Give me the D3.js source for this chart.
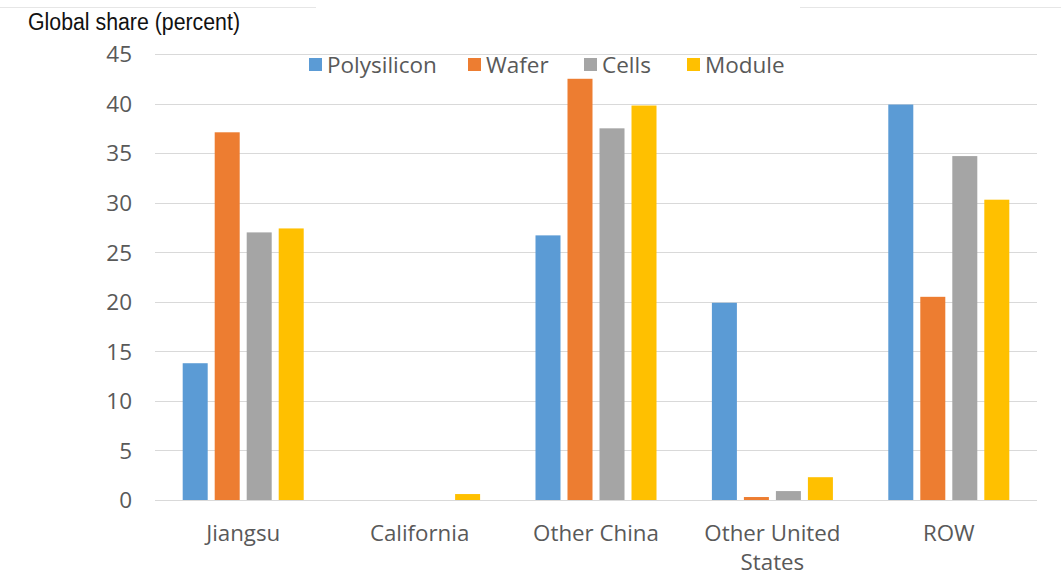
<!DOCTYPE html>
<html>
<head>
<meta charset="utf-8">
<script src="https://cdn.jsdelivr.net/npm/d3@7"></script>
<style>
  html, body { margin: 0; padding: 0; background: #fff; }
  svg { display: block; }
</style>
</head>
<body>
<svg id="chart" width="1061" height="577"></svg>
<script>
// Regions and production stages
const categories = ["Jiangsu", "California", "Other China", "Other United States", "ROW"];
const seriesNames = ["Polysilicon", "Wafer", "Cells", "Module"];
const seriesColors = ["#5b9bd5", "#ed7d31", "#a5a5a5", "#ffc000"];

// Global share (percent) per stage, one array per region order above
const polysilicon = [13.8, 0, 26.7, 19.9, 39.9];
const wafer       = [37.1, 0, 42.5, 0.3, 20.5];
const cells       = [27.0, 0, 37.5, 0.9, 34.7];
const module_     = [27.4, 0.6, 39.8, 2.3, 30.3];

const yTicks = [0, 5, 10, 15, 20, 25, 30, 35, 40, 45];
const yMax = 45;

const seriesValues = [polysilicon, wafer, cells, module_];

const svg = d3.select("#chart");
const W = 1061, H = 577;
const plot = { left: 155, right: 1037, top: 54, bottom: 500 };

const tickFont = "'Open Sans', 'Noto Sans', sans-serif";
const textColor = "#595959";

// thin frame remnants along the top
svg.append("line").attr("x1", 0).attr("x2", 316).attr("y1", 7.5).attr("y2", 7.5)
  .attr("stroke", "#e6e6e6").attr("stroke-width", 1);
svg.append("line").attr("x1", 800).attr("x2", W).attr("y1", 7.5).attr("y2", 7.5)
  .attr("stroke", "#e6e6e6").attr("stroke-width", 1);

const x = d3.scaleBand().domain(categories).range([plot.left, plot.right]).paddingInner(0).paddingOuter(0);
const bw = x.bandwidth();
const groupPad = bw * 0.157;
const xs = d3.scaleBand().domain(seriesNames).range([groupPad, bw - groupPad]).paddingInner(0.21875).paddingOuter(0);
const y = d3.scaleLinear().domain([0, yMax]).range([plot.bottom, plot.top]);

// gridlines
svg.append("g").selectAll("line").data(yTicks).join("line")
  .attr("x1", plot.left).attr("x2", plot.right)
  .attr("y1", d => Math.round(y(d)) + 0.5).attr("y2", d => Math.round(y(d)) + 0.5)
  .attr("stroke", "#d9d9d9").attr("stroke-width", 1.2);

// y axis labels
const yAxis = d3.axisLeft(y).tickValues(yTicks).tickSize(0).tickPadding(0);
const yg = svg.append("g").attr("transform", `translate(${plot.left - 23},0)`).call(yAxis);
yg.select(".domain").remove();
yg.selectAll("text").attr("font-family", tickFont).attr("font-size", 22.5)
  .attr("fill", textColor).attr("dy", "0.35em");

// bars
const rows = [];
categories.forEach((c, i) => {
  seriesNames.forEach((s, j) => rows.push({ cat: c, series: s, color: seriesColors[j], value: seriesValues[j][i] }));
});
svg.append("g").selectAll("rect").data(rows.filter(d => d.value > 0)).join("rect")
  .attr("x", d => x(d.cat) + xs(d.series))
  .attr("width", xs.bandwidth())
  .attr("y", d => y(d.value))
  .attr("height", d => y(0) - y(d.value))
  .attr("fill", d => d.color);

// category labels (wrapped)
const xAxis = d3.axisBottom(x).tickSize(0).tickPadding(0);
const xg = svg.append("g").attr("transform", `translate(0,${plot.bottom})`).call(xAxis);
xg.select(".domain").remove();
xg.selectAll("text").each(function(d) {
  const t = d3.select(this);
  t.text(null).attr("font-family", tickFont).attr("font-size", 22.3).attr("fill", textColor).attr("y", 0).attr("dy", null);
  const lines = d === "Other United States" ? ["Other United", "States"] : [d];
  lines.forEach((ln, k) => t.append("tspan").attr("x", 0).attr("y", 41 + k * 29).text(ln));
});

// axis title
svg.append("text").attr("x", 28).attr("y", 30)
  .attr("font-family", "'Liberation Sans Narrow', 'Liberation Sans', Arial, sans-serif")
  .attr("font-size", 23).attr("fill", "#111")
  .attr("textLength", 212).attr("lengthAdjust", "spacingAndGlyphs")
  .text("Global share (percent)");

// legend
const legendX = [309, 468, 584, 687];
const lg = svg.append("g").selectAll("g").data(seriesNames).join("g")
  .attr("transform", (d, i) => `translate(${legendX[i]},65)`);
lg.append("rect").attr("x", 0).attr("y", -7).attr("width", 13).attr("height", 13)
  .attr("fill", (d, i) => seriesColors[i]);
lg.append("text").attr("x", 18).attr("y", 0).attr("dy", "0.35em")
  .attr("font-family", tickFont).attr("font-size", 22.5).attr("fill", textColor)
  .text(d => d);
</script>
</body>
</html>
